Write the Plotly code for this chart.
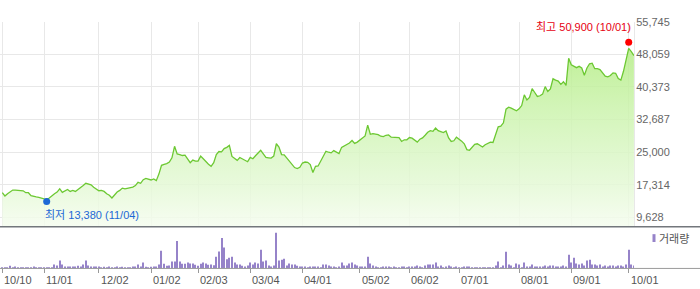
import plotly.graph_objects as go

# ---------------- data ----------------
close = [
    15430, 14660, 15200, 15660, 16050, 16050, 15970, 15970, 15890, 15430,
    15430, 14750, 14510, 14430, 14350, 14200, 13900, 13820, 14200, 14820,
    15200, 15590, 16350, 15500, 15900, 16200, 15740, 15970, 15740, 16200,
    16510, 17120, 17660, 17510, 17280, 16700, 16350, 15900, 15970, 15740,
    15200, 14820, 14200, 14900, 15590, 15970, 16510, 16350, 16510, 16510,
    16740, 17120, 17890, 17660, 18510, 18820, 18660, 18430, 18660, 18280,
    19820, 21890, 22130, 22280, 22660, 23660, 26360, 24590, 24430, 24200,
    24280, 23430, 22510, 23130, 22890, 22890, 24050, 23430, 22660, 22130,
    21660, 22510, 24430, 25130, 25050, 25820, 26120, 26590, 23970, 23430,
    23050, 23740, 23360, 23130, 22740, 23740, 23430, 24130, 24740, 25430,
    24590, 23740, 23660, 23590, 24050, 26970, 26200, 24430, 24360, 23590,
    22660, 21970, 21360, 21130, 21430, 22430, 22660, 22590, 22050, 20200,
    21660, 21740, 22890, 24200, 25200, 24970, 24820, 25360, 25050, 24660,
    26120, 26510, 26740, 27130, 27740, 27050, 27360, 27820, 28360, 28820,
    31360, 29200, 29360, 29280, 29130, 28740, 28660, 28970, 29050, 28510,
    28430, 28430, 28430, 27510, 27900, 27900, 28430, 28280, 27900, 27350,
    28050, 28360, 28970, 29670, 30050, 29900, 30670, 30050, 29820, 29590,
    29970, 28360, 27510, 27670, 28510, 28130, 27590, 26970, 25590, 25430,
    26200, 26820, 26970, 26590, 26200, 26740, 27130, 27360, 27280, 29050,
    30970, 31130, 31900, 35130, 35590, 35360, 35130, 34740, 35200, 35970,
    38510, 37280, 37900, 39970, 39050, 38130, 38280, 38670, 40440, 39280,
    39900, 42280, 41970, 41740, 40970, 41590, 40740, 47130, 45590, 45210,
    44900, 45210, 44820, 43130, 44820, 45820, 45970, 44670, 44670, 44440,
    43670, 42900, 42740, 43050, 43670, 43590, 42360, 41970, 44050, 47130,
    49440, 48670, 47740,
]

volume = [
    3, 3, 3, 8, 4, 6, 3, 3, 3, 3, 3, 4, 6, 3, 3, 3, 3, 3, 3, 3,
    12, 9, 24, 12, 6, 6, 6, 6, 6, 8, 6, 12, 24, 9, 6, 6, 6, 6, 3, 5,
    3, 6, 3, 3, 6, 3, 5, 3, 3, 4, 6, 6, 12, 6, 18, 5, 3, 5, 6, 6,
    12, 54, 14, 8, 9, 21, 21, 84, 21, 14, 14, 18, 15, 15, 11, 8, 14, 18, 15, 11,
    12, 10, 36, 52, 93, 64, 28, 33, 36, 18, 12, 12, 8, 6, 9, 18, 12, 18, 15, 57,
    21, 24, 9, 6, 9, 109, 24, 27, 30, 9, 15, 12, 12, 8, 6, 6, 6, 3, 6, 6,
    6, 6, 3, 12, 12, 9, 6, 6, 3, 6, 18, 9, 9, 15, 18, 12, 9, 6, 6, 6,
    36, 15, 9, 6, 3, 3, 6, 6, 6, 3, 6, 3, 3, 6, 6, 3, 6, 6, 6, 9,
    6, 3, 9, 12, 12, 12, 18, 6, 9, 3, 6, 9, 6, 3, 6, 3, 3, 6, 6, 6,
    3, 3, 3, 3, 3, 3, 3, 3, 3, 9, 21, 3, 9, 51, 12, 9, 3, 15, 12, 3,
    18, 6, 6, 12, 6, 6, 6, 6, 9, 6, 9, 9, 6, 6, 6, 9, 6, 42, 18, 33,
    15, 12, 15, 9, 24, 27, 12, 12, 9, 12, 6, 9, 6, 9, 9, 6, 9, 9, 6, 12,
    57, 12, 9,
]

tick_idx = [0, 16, 37, 57, 75, 95, 115, 137, 156, 175, 198, 218, 240]
tick_labels = ["10/10", "11/01", "12/02", "01/02", "02/03", "03/04", "04/01",
               "05/02", "06/02", "07/01", "08/01", "09/01", "10/01"]
price_ticks = [9628, 17314, 25000, 32687, 40373, 48059, 55745]

high_idx, high_val, high_label = 240, 50900, "최고 50,900 (10/01)"
low_idx, low_val, low_label = 17, 13380, "최저 13,380 (11/04)"
volume_legend = "거래량"

days = list(range(len(close)))

# ---------------- styling ----------------
W, H = 700, 289
FONT = "Liberation Sans, Arial, Noto Sans CJK KR, sans-serif"
LINE_GREEN = "#6cc832"
VOL_PURPLE = "#9683c9"
GRID = "#e8e8e8"

x_dom = [0, 634 / W]
x_rng = [-0.88, 242.03]
price_dom = [(H - 225.5) / H, (H - 16) / H]
price_rng = [7392, 55745]
vol_dom = [(H - 268) / H, (H - 227) / H]
vol_rng = [0, 123]

fig = go.Figure()

fig.add_trace(go.Scatter(
    x=days, y=close, mode="lines",
    line=dict(color=LINE_GREEN, width=1.3),
    fill="tozeroy",
    fillgradient=dict(
        type="vertical",
        colorscale=[[0.0, "rgba(247,253,242,0.85)"],
                    [0.2, "rgba(230,249,216,0.85)"],
                    [0.4, "rgba(216,246,194,0.85)"],
                    [0.6, "rgba(202,243,170,0.85)"],
                    [0.8, "rgba(186,238,143,0.85)"],
                    [1.0, "rgba(176,235,129,0.85)"]],
        start=price_rng[0], stop=price_rng[1],
    ),
    xaxis="x", yaxis="y", hoverinfo="skip",
))

fig.add_trace(go.Scatter(
    x=[high_idx], y=[high_val], mode="markers",
    marker=dict(color="#ff0000", size=7), cliponaxis=False,
    xaxis="x", yaxis="y", hoverinfo="skip",
))
fig.add_trace(go.Scatter(
    x=[low_idx], y=[low_val], mode="markers",
    marker=dict(color="#1c68d6", size=7), cliponaxis=False,
    xaxis="x", yaxis="y", hoverinfo="skip",
))

fig.add_trace(go.Bar(
    x=days, y=volume, width=0.4,
    marker=dict(color=VOL_PURPLE, line=dict(width=0)),
    xaxis="x2", yaxis="y2", hoverinfo="skip",
))

annotations = [
    dict(x=high_idx, y=high_val, xref="x", yref="y", text=high_label,
         showarrow=False, xanchor="right", yanchor="bottom",
         xshift=4, yshift=7, font=dict(size=11, color="#e60012")),
    dict(x=low_idx, y=low_val, xref="x", yref="y", text=low_label,
         showarrow=False, xanchor="left", yanchor="top",
         xshift=-4, yshift=-6, font=dict(size=11, color="#1c68d6")),
    dict(x=657 / W, y=(H - 237.5) / H, xref="paper", yref="paper",
         text=volume_legend, showarrow=False, xanchor="left", yanchor="middle",
         font=dict(size=11, color="#555")),
]
# date labels, left-aligned at their tick
for t, lab in zip(tick_idx, tick_labels):
    annotations.append(dict(
        x=t, y=0, xref="x2", yref="y2 domain", text=lab, showarrow=False,
        xanchor="left", yanchor="top", xshift=0, yshift=-4,
        font=dict(size=11, color="#555"),
    ))

fig.update_layout(
    width=W, height=H,
    margin=dict(l=0, r=0, t=0, b=0),
    paper_bgcolor="white", plot_bgcolor="white",
    showlegend=False,
    font=dict(family=FONT, size=11, color="#555"),
    xaxis=dict(
        domain=x_dom, range=x_rng, anchor="y",
        tickmode="array", tickvals=tick_idx, showticklabels=False,
        showgrid=True, gridcolor=GRID, gridwidth=1,
        zeroline=False, showline=False, ticks="",
    ),
    yaxis=dict(
        domain=price_dom, range=price_rng, anchor="x", side="right",
        tickmode="array", tickvals=price_ticks, tickformat=",d",
        tickfont=dict(size=11, color="#666"),
        showgrid=True, gridcolor=GRID, gridwidth=1,
        zeroline=False, showline=True, linecolor=GRID, linewidth=1,
        ticks="", ticklabelstandoff=-1,
    ),
    xaxis2=dict(
        domain=x_dom, range=x_rng, anchor="y2",
        tickmode="array", tickvals=tick_idx, showticklabels=False,
        ticks="outside", ticklen=4, tickcolor="#999", tickwidth=1,
        showgrid=False, zeroline=False, showline=False,
    ),
    yaxis2=dict(
        domain=vol_dom, range=vol_rng, anchor="x2",
        visible=False, showgrid=False, zeroline=False,
    ),
    shapes=[
        dict(type="line", xref="paper", yref="y domain", x0=0, x1=1, y0=0, y1=0,
             line=dict(color="#73777c", width=1.5)),
        dict(type="line", xref="paper", yref="y2 domain", x0=0, x1=1, y0=0, y1=0,
             line=dict(color="#9a9a9a", width=1)),
        dict(type="rect", xref="paper", yref="paper",
             x0=652.5 / W, x1=655.5 / W, y0=(H - 241) / H, y1=(H - 233) / H,
             fillcolor=VOL_PURPLE, line=dict(width=0)),
    ],
    annotations=annotations,
)

fig.write_html("out.html")
